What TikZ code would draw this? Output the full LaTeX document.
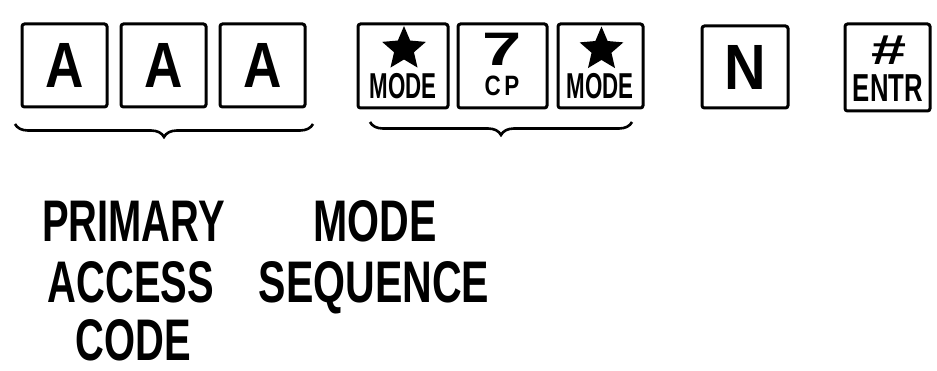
\documentclass[tikz,border=0pt]{standalone}
\usepackage{fontspec}
\setmainfont{Liberation Sans}
\usetikzlibrary{shapes.geometric,decorations.pathreplacing}
\begin{document}
\begin{tikzpicture}[x=1pt,y=-1pt,
  keybox/.style={draw, line width=3pt, rounded corners=2.5pt, inner sep=0pt, minimum width=#1},
  keybox/.default=85pt,
  bigglyph/.style={font=\fontsize{64}{64}\selectfont\bfseries},
  lbl/.style={anchor=base, inner sep=0pt, font=\fontsize{58.7}{60}\selectfont\bfseries},
  keylbl/.style={inner sep=0pt, font=\bfseries},
  bracestyle/.style={decorate, decoration={brace, mirror, amplitude=13pt}, line width=2.6pt},
  starshape/.style={star, star points=5, star point ratio=2.2, fill=black, inner sep=0pt, minimum size=46pt}
]
\useasboundingbox (0,0) rectangle (937,371);

% primary access code keys
\node[keybox, minimum height=83pt, bigglyph] (k1) at (64.5,65.5) {\scalebox{0.83}[1]{A}};
\node[keybox, minimum height=83pt, bigglyph] (k2) at (163.5,65.5) {\scalebox{0.83}[1]{A}};
\node[keybox, minimum height=83pt, bigglyph] (k3) at (262.5,65.5) {\scalebox{0.83}[1]{A}};

% mode sequence keys
\node[keybox=90pt, minimum height=84pt] (k4) at (403,66) {};
\node[starshape] (s4) at (404,49) {};
\node[keylbl, font=\fontsize{36}{36}\selectfont\bfseries] (m4) at (403,86) {\scalebox{0.62}[1]{MODE}};

\node[keybox=89pt, minimum height=84pt] (k5) at (502.5,66) {};
\node[keylbl, font=\fontsize{47}{47}\selectfont\bfseries] (n7) at (502.5,49) {\scalebox{1.5}[1]{7}};
\node[keylbl, font=\fontsize{28}{28}\selectfont\bfseries] (cp) at (502,86) {\scalebox{0.8}[1]{C\,P}};

\node[keybox=85pt, minimum height=84pt] (k6) at (600.5,66) {};
\node[starshape] (s6) at (601.5,49.5) {};
\node[keylbl, font=\fontsize{36}{36}\selectfont\bfseries] (m6) at (600,86) {\scalebox{0.62}[1]{MODE}};

% N key
\node[keybox=86pt, minimum height=82pt, bigglyph] (k7) at (745,67) {\scalebox{0.9}[1]{N}};

% ENTR key
\node[keybox=85pt, minimum height=87pt] (k8) at (887.5,67.5) {};
\node[keylbl, font=\fontsize{42}{42}\selectfont\bfseries] (hash) at (889,50) {\scalebox{1.5}[1]{\#}};
\node[keylbl, font=\fontsize{39}{39}\selectfont\bfseries] (entr) at (888,88) {\scalebox{0.66}[1]{ENTR}};

% braces
\coordinate (b1l) at (15,124);
\coordinate (b1r) at (313,124);
\coordinate (b2l) at (370,122);
\coordinate (b2r) at (632,122);
\draw[bracestyle] (b1l) -- (b1r);
\draw[bracestyle] (b2l) -- (b2r);

% labels
\node[lbl] (p1) at (133.5,242) {\scalebox{0.68}[1]{PRIMARY}};
\node[lbl] (p2) at (131,302) {\scalebox{0.68}[1]{ACCESS}};
\node[lbl] (p3) at (133.5,360) {\scalebox{0.68}[1]{CODE}};
\node[lbl] (q1) at (375,242) {\scalebox{0.7}[1]{MODE}};
\node[lbl] (q2) at (374,302) {\scalebox{0.7}[1]{SEQUENCE}};
\end{tikzpicture}
\end{document}
